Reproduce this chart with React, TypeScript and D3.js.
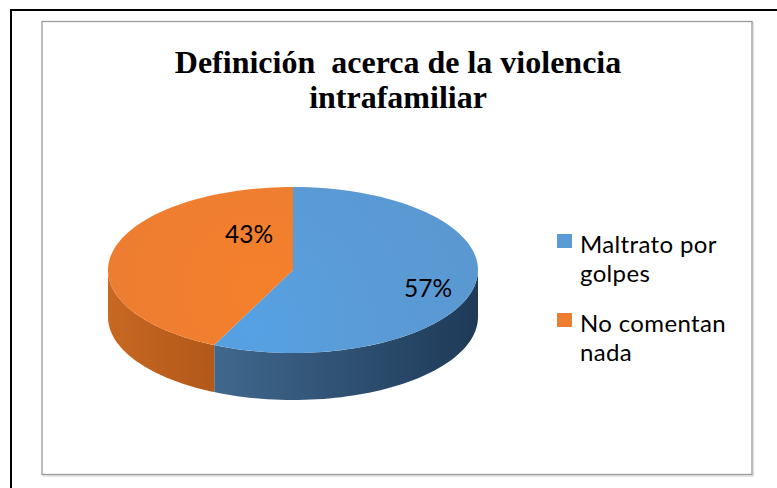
import React from "react";
import * as d3 from "d3";

const categories = ["Maltrato por golpes", "No comentan nada"];
const values = [57, 43];
const labels = ["57%", "43%"];
const legendLines = [["Maltrato por", "golpes"], ["No comentan", "nada"]];
const titleLines = ["Definición  acerca de la violencia", "intrafamiliar"];

const W = 777, H = 488;
const cx = 293, cy = 270, rx = 185, ry = 83, depth = 47;
const topColors = ["#5B9BD5", "#ED7D31"];
const sideDark = [["#41698f", "#1e3a57"], ["#c86822", "#b3591a"]];

function pt(a: number, dy = 0): [number, number] {
  return [cx + rx * Math.sin(a), cy - ry * Math.cos(a) + dy];
}

function topPath(a0: number, a1: number) {
  const p: string[] = [`M${cx},${cy}`];
  const n = 80;
  for (let i = 0; i <= n; i++) {
    const a = a0 + ((a1 - a0) * i) / n;
    const [x, y] = pt(a);
    p.push(`L${x},${y}`);
  }
  p.push("Z");
  return p.join("");
}

function sidePath(a0: number, a1: number) {
  const s = Math.max(a0, Math.PI / 2);
  const e = Math.min(a1, (3 * Math.PI) / 2);
  if (e <= s) return null;
  const n = 60;
  const pts: string[] = [];
  for (let i = 0; i <= n; i++) {
    const a = s + ((e - s) * i) / n;
    const [x, y] = pt(a);
    pts.push(`${i === 0 ? "M" : "L"}${x},${y}`);
  }
  for (let i = n; i >= 0; i--) {
    const a = s + ((e - s) * i) / n;
    const [x, y] = pt(a, depth);
    pts.push(`L${x},${y}`);
  }
  pts.push("Z");
  return pts.join("");
}

export default function App() {
  const pie = d3.pie<number>().sort(null).value((d) => d);
  const arcs = pie(values);

  return (
    <svg width={W} height={H} style={{ position: "absolute", left: 0, top: 0, background: "#fff" }}>
      <defs>
        <linearGradient id="sideBlue" gradientUnits="userSpaceOnUse" x1={207} y1={0} x2={478} y2={0}>
          <stop offset="0" stopColor={sideDark[0][0]} />
          <stop offset="1" stopColor={sideDark[0][1]} />
        </linearGradient>
        <linearGradient id="sideOrange" gradientUnits="userSpaceOnUse" x1={108} y1={0} x2={207} y2={0}>
          <stop offset="0" stopColor={sideDark[1][0]} />
          <stop offset="1" stopColor={sideDark[1][1]} />
        </linearGradient>
        <radialGradient id="topBlue" gradientUnits="userSpaceOnUse" cx={250} cy={330} r={260}>
          <stop offset="0" stopColor="#55a1e4" />
          <stop offset="0.5" stopColor="#5b9bd5" />
          <stop offset="1" stopColor="#5997d0" />
        </radialGradient>
        <radialGradient id="topOrange" gradientUnits="userSpaceOnUse" cx={260} cy={290} r={200}>
          <stop offset="0" stopColor="#f5802c" />
          <stop offset="1" stopColor="#ea7c32" />
        </radialGradient>
      </defs>
      <rect x={11} y={10} width={900} height={600} fill="none" stroke="#000" strokeWidth={2} />
      <rect x={43.5} y={23} width={710} height={453} fill="none" stroke="#e0e0e0" strokeWidth={1.5} />
      <rect x={42} y={21.5} width={710} height={453} fill="#fff" stroke="#9a9a9a" strokeWidth={1.3} />

      {titleLines.map((t, i) => (
        <text
          key={i}
          x={398}
          y={73 + i * 35}
          textAnchor="middle"
          fontFamily="'Liberation Serif', 'Times New Roman', serif"
          fontWeight="bold"
          fontSize={32}
          style={{ whiteSpace: "pre" }}
        >
          {t}
        </text>
      ))}

      {arcs.map((a, i) => {
        const d = sidePath(a.startAngle, a.endAngle);
        return d ? (
          <path key={"s" + i} d={d} fill={i === 0 ? "url(#sideBlue)" : "url(#sideOrange)"} />
        ) : null;
      })}
      {arcs.map((a, i) => (
        <path key={"t" + i} d={topPath(a.startAngle, a.endAngle)} fill={i === 0 ? "url(#topBlue)" : "url(#topOrange)"} />
      ))}

      <text x={428} y={297} textAnchor="middle" fontFamily="Lato, 'Noto Sans', sans-serif" fontSize={24.5} fill="#000">
        {labels[0]}
      </text>
      <text x={249} y={243} textAnchor="middle" fontFamily="Lato, 'Noto Sans', sans-serif" fontSize={24.5} fill="#000">
        {labels[1]}
      </text>

      {categories.map((c, i) => {
        const y0 = i === 0 ? 234 : 313;
        return (
          <g key={c}>
            <rect x={557} y={y0} width={15} height={14} fill={topColors[i]} />
            {legendLines[i].map((l, j) => (
              <text
                key={j}
                x={580}
                y={y0 + 19 + j * 29}
                fontFamily="Lato, 'Noto Sans', sans-serif"
                fontSize={24}
                letterSpacing={0.35}
                fill="#000"
              >
                {l}
              </text>
            ))}
          </g>
        );
      })}
    </svg>
  );
}
